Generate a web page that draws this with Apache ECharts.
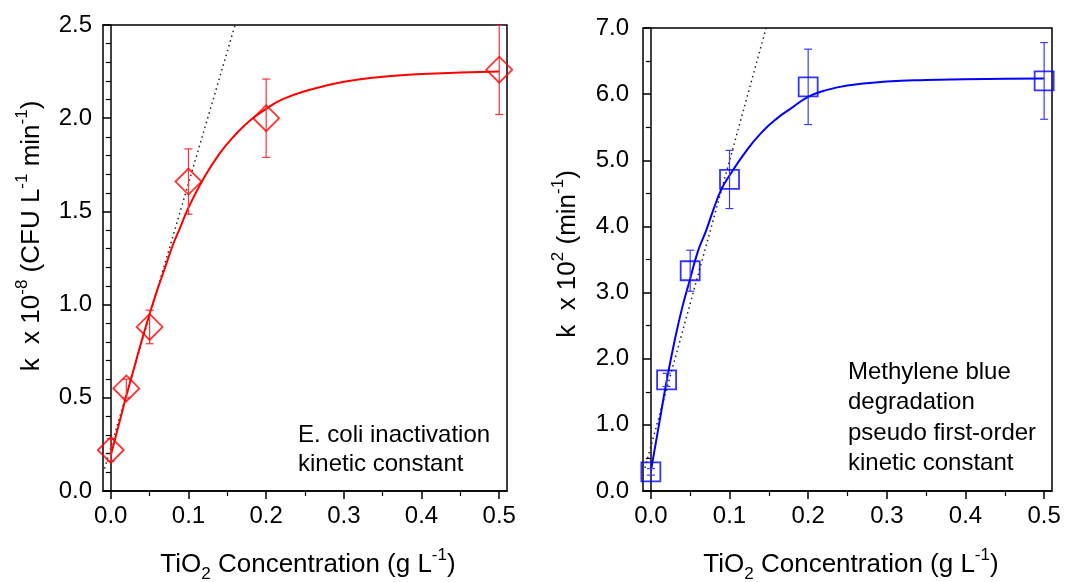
<!DOCTYPE html>
<html>
<head>
<meta charset="utf-8">
<script src="https://cdn.jsdelivr.net/npm/echarts@6/dist/echarts.min.js"></script>
<style>html,body{margin:0;padding:0;background:#fff}#c{width:1072px;height:582px}</style>
</head>
<body>
<div id="c"></div>
<script>
// ---- data ----
const concX = [0, 0.02, 0.05, 0.1, 0.2, 0.5];
// E. coli inactivation kinetic constant (k x 10^-8)
const ecoliK = [0.22, 0.55, 0.88, 1.66, 2.00, 2.26];
const ecoliErr = [0.06, 0.05, 0.09, 0.175, 0.21, 0.24];
// Methylene blue degradation kinetic constant (k x 10^2)
const mbK = [0.29, 1.68, 3.33, 4.71, 6.11, 6.20];
const mbErr = [0.05, 0.10, 0.31, 0.44, 0.57, 0.58];
// fitted curves
const fitX = [0, 0.01, 0.02, 0.03, 0.04, 0.05, 0.06, 0.07, 0.08, 0.09, 0.1, 0.12, 0.14, 0.16, 0.18, 0.2, 0.22, 0.25, 0.3, 0.35, 0.4, 0.45, 0.5];
const ecoliFit = [0.19, 0.35, 0.51, 0.66, 0.81, 0.95, 1.08, 1.20, 1.32, 1.42, 1.52, 1.68, 1.81, 1.91, 1.99, 2.05, 2.10, 2.145, 2.195, 2.222, 2.237, 2.245, 2.25];
const mbFit = [0.30, 0.98, 1.66, 2.26, 2.78, 3.21, 3.63, 3.93, 4.27, 4.57, 4.77, 5.12, 5.41, 5.63, 5.80, 5.96, 6.05, 6.13, 6.19, 6.215, 6.225, 6.232, 6.235];
// initial-slope dotted lines (end points)
const ecoliSlopeX = [-0.008, 0.16];
const ecoliSlopeY = [0.12, 2.5];
const mbSlopeX = [-0.0075, 0.1465];
const mbSlopeY = [0.35, 7.0];
// ticks
const xMajor = [0, 0.1, 0.2, 0.3, 0.4, 0.5];
const xMinor = [0.05, 0.15, 0.25, 0.35, 0.45];

const FONT = 'Liberation Sans, Arial, sans-serif';
const RED = '#ff0000', RED_E = '#ff3030';
const BLUE = '#0000ff', BLUE_E = '#3c3cff';
const TICK_FS = 24, TITLE_FS = 26, SUP_FS = 17;

const zip = (a, b) => a.map((v, i) => [v, b[i]]);

function errBar(color) {
  return function (params, api) {
    const x = api.value(0), lo = api.value(1), hi = api.value(2);
    const pLo = api.coord([x, lo]), pHi = api.coord([x, hi]);
    const w = 4;
    const st = { stroke: color, lineWidth: 1.2 };
    return { type: 'group', children: [
      { type: 'line', shape: { x1: pLo[0], y1: pLo[1], x2: pHi[0], y2: pHi[1] }, style: st },
      { type: 'line', shape: { x1: pLo[0] - w, y1: pLo[1], x2: pLo[0] + w, y2: pLo[1] }, style: st },
      { type: 'line', shape: { x1: pHi[0] - w, y1: pHi[1], x2: pHi[0] + w, y2: pHi[1] }, style: st }
    ]};
  };
}

function xAxes(grid) {
  return [
    { type: 'value', gridIndex: grid, min: -0.01, max: 0.51, position: 'bottom',
      splitLine: { show: false },
      axisLine: { show: true, onZero: false, lineStyle: { color: '#000', width: 1.5 } },
      axisTick: { show: true, length: 8, customValues: xMajor, lineStyle: { color: '#000', width: 1.5 } },
      axisLabel: { customValues: xMajor, margin: 13, color: '#000', fontSize: TICK_FS, fontFamily: FONT,
        formatter: v => v.toFixed(1) } },
    { type: 'value', gridIndex: grid, min: -0.01, max: 0.51, position: 'bottom',
      splitLine: { show: false },
      axisLine: { show: false, onZero: false },
      axisTick: { show: true, length: 5, customValues: xMinor, lineStyle: { color: '#000', width: 1.2 } },
      axisLabel: { show: false } }
  ];
}

const richTitle = {
  n: { fontSize: TITLE_FS, fontFamily: FONT, lineHeight: 36, verticalAlign: 'middle' },
  s: { fontSize: SUP_FS, fontFamily: FONT, lineHeight: 36, verticalAlign: 'top' },
  b: { fontSize: SUP_FS, fontFamily: FONT, lineHeight: 36, verticalAlign: 'bottom' }
};

const option = {
  animation: false,
  backgroundColor: '#fff',
  grid: [
    { left: 103, top: 25, width: 404, height: 466, show: true, borderColor: '#000', borderWidth: 1.5 },
    { left: 643, top: 28, width: 409, height: 463, show: true, borderColor: '#000', borderWidth: 1.5 }
  ],
  xAxis: [].concat(xAxes(0), xAxes(1)),
  yAxis: [
    { type: 'value', gridIndex: 0, min: 0, max: 2.5, interval: 0.5,
      splitLine: { show: false },
      axisLine: { show: true, lineStyle: { color: '#000', width: 1.5 } },
      axisTick: { show: true, length: 8, lineStyle: { color: '#000', width: 1.5 } },
      minorTick: { show: true, splitNumber: 5, length: 5, lineStyle: { color: '#000', width: 1.2 } },
      axisLabel: { margin: 11, color: '#000', fontSize: TICK_FS, fontFamily: FONT, formatter: v => v.toFixed(1) } },
    { type: 'value', gridIndex: 1, min: 0, max: 7, interval: 1,
      splitLine: { show: false },
      axisLine: { show: true, lineStyle: { color: '#000', width: 1.5 } },
      axisTick: { show: true, length: 8, lineStyle: { color: '#000', width: 1.5 } },
      minorTick: { show: true, splitNumber: 2, length: 5, lineStyle: { color: '#000', width: 1.2 } },
      axisLabel: { margin: 14, color: '#000', fontSize: TICK_FS, fontFamily: FONT, formatter: v => v.toFixed(1) } }
  ],
  series: [
    // left panel
    { type: 'line', xAxisIndex: 0, yAxisIndex: 0, data: zip(ecoliSlopeX, ecoliSlopeY), symbol: 'none',
      lineStyle: { color: '#222', width: 1.5, type: [1.5, 3.5] }, z: 2 },
    { type: 'line', xAxisIndex: 0, yAxisIndex: 0, data: zip(fitX, ecoliFit), symbol: 'none', smooth: true,
      lineStyle: { color: RED, width: 2 }, z: 3 },
    { type: 'custom', xAxisIndex: 0, yAxisIndex: 0, clip: true,
      data: concX.map((x, i) => [x, ecoliK[i] - ecoliErr[i], ecoliK[i] + ecoliErr[i]]),
      renderItem: errBar(RED_E), z: 4 },
    { type: 'scatter', xAxisIndex: 0, yAxisIndex: 0, data: zip(concX, ecoliK), symbol: 'diamond', symbolSize: 26,
      itemStyle: { color: 'rgba(0,0,0,0)', borderColor: RED, borderWidth: 1.8 }, z: 5 },
    // right panel
    { type: 'line', xAxisIndex: 2, yAxisIndex: 1, data: zip(mbSlopeX, mbSlopeY), symbol: 'none',
      lineStyle: { color: '#222', width: 1.5, type: [1.5, 3.5] }, z: 2 },
    { type: 'line', xAxisIndex: 2, yAxisIndex: 1, data: zip(fitX, mbFit), symbol: 'none', smooth: true,
      lineStyle: { color: BLUE, width: 2 }, z: 3 },
    { type: 'custom', xAxisIndex: 2, yAxisIndex: 1, clip: true,
      data: concX.map((x, i) => [x, mbK[i] - mbErr[i], mbK[i] + mbErr[i]]),
      renderItem: errBar(BLUE_E), z: 4 },
    { type: 'scatter', xAxisIndex: 2, yAxisIndex: 1, data: zip(concX, mbK), symbol: 'rect', symbolSize: 19,
      itemStyle: { color: 'rgba(0,0,0,0)', borderColor: BLUE, borderWidth: 1.8 }, z: 5 }
  ],
  graphic: [
    { type: 'text', x: 32, y: 236, rotation: Math.PI / 2,
      style: { text: '{n|k  x 10}{s|-8}{n| (CFU L}{s|-1}{n| min}{s|-1}{n|)}',
        align: 'center', verticalAlign: 'middle', fill: '#000', rich: richTitle } },
    { type: 'text', x: 568, y: 254, rotation: Math.PI / 2,
      style: { text: '{n|k  x 10}{s|2}{n| (min}{s|-1}{n|)}',
        align: 'center', verticalAlign: 'middle', fill: '#000', rich: richTitle } },
    { type: 'text', x: 308, y: 565,
      style: { text: '{n|TiO}{b|2}{n| Concentration (g L}{s|-1}{n|)}',
        align: 'center', verticalAlign: 'middle', fill: '#000', rich: richTitle } },
    { type: 'text', x: 851, y: 565,
      style: { text: '{n|TiO}{b|2}{n| Concentration (g L}{s|-1}{n|)}',
        align: 'center', verticalAlign: 'middle', fill: '#000', rich: richTitle } },
    { type: 'text', x: 298, y: 421,
      style: { text: 'E. coli inactivation\nkinetic constant', font: '24px ' + FONT, lineHeight: 29,
        fill: '#000', align: 'left', verticalAlign: 'top' } },
    { type: 'text', x: 848, y: 357,
      style: { text: 'Methylene blue\ndegradation\npseudo first-order\nkinetic constant', font: '24px ' + FONT,
        lineHeight: 30.5, fill: '#000', align: 'left', verticalAlign: 'top' } }
  ]
};
echarts.init(document.getElementById('c'), null, { renderer: 'canvas' }).setOption(option);
</script>
</body>
</html>
